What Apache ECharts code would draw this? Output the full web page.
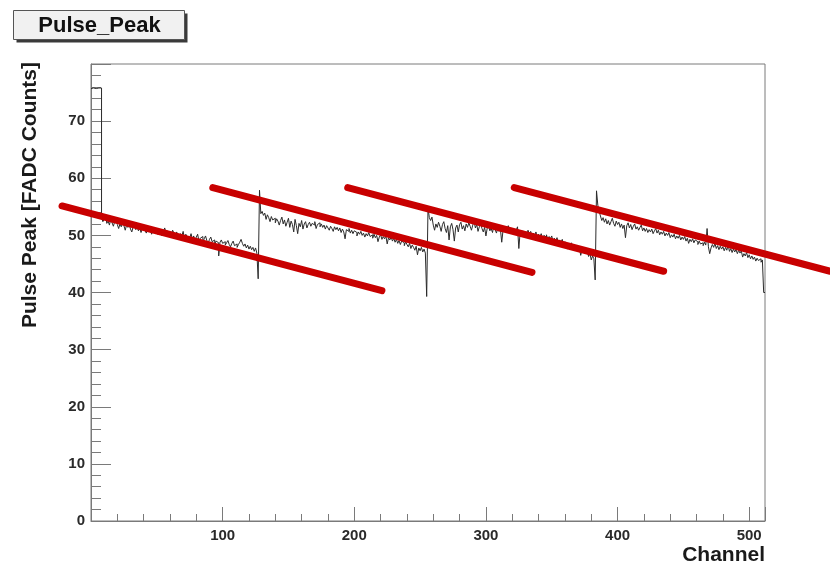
<!DOCTYPE html>
<html>
<head>
<meta charset="utf-8">
<script src="https://cdn.jsdelivr.net/npm/echarts@6/dist/echarts.min.js"></script>
<style>
html,body{margin:0;padding:0;background:#fff;}
#chart{width:830px;height:566px;}
</style>
</head>
<body>
<div id="chart"></div>
<script>
// Pulse peak per channel (channels 0..511, four blocks of 128)
var block1 = [
75.7,75.8,75.8,75.7,75.8,75.8,75.7,75.8,
53.2,52.4,52.8,53.6,52.1,52.5,51.8,52.9,52.2,51.6,52.4,53.1,51.9,51.2,52.0,51.5,
52.3,51.7,50.9,51.8,51.4,52.0,51.1,50.6,51.5,51.9,51.0,51.6,50.8,51.3,50.5,51.2,
51.7,50.9,50.4,51.1,50.7,51.4,50.2,50.8,51.2,50.5,50.9,50.1,51.0,50.6,49.9,50.7,
51.3,50.3,50.8,49.8,50.5,50.0,50.9,50.4,49.7,50.6,50.1,49.5,50.3,49.9,50.7,49.4,
50.2,49.8,48.9,49.6,50.3,49.3,49.9,49.1,49.7,50.2,49.0,49.5,49.8,48.8,49.4,49.9,
49.1,48.6,49.3,49.7,48.9,49.2,48.5,49.0,48.7,46.4,48.8,49.2,48.6,48.9,48.3,48.7,
49.1,48.4,48.0,48.6,49.0,48.2,48.5,47.9,48.4,48.8,49.3,48.6,48.1,48.5,47.8,48.3,
47.6,48.1,47.5,47.9,47.2,47.8,46.9,42.4
];
var block2 = [
57.9,53.8,54.2,53.5,53.9,52.8,53.6,53.1,52.4,53.3,52.7,53.0,52.2,52.9,52.5,51.8,
52.6,53.2,52.0,52.7,51.6,52.3,53.0,51.4,52.5,51.9,50.6,52.8,51.7,50.3,52.1,51.5,
52.6,51.1,52.0,52.4,51.3,51.9,52.3,51.6,52.1,51.8,52.4,51.2,51.9,52.2,51.5,52.0,
51.4,51.8,51.1,51.7,51.3,50.9,51.6,51.2,50.7,51.5,51.0,51.4,50.8,51.3,50.5,51.1,
50.6,49.4,51.0,50.7,51.2,50.4,50.9,50.3,50.8,50.5,49.9,50.6,50.2,50.7,50.0,50.4,
49.7,50.3,49.9,50.5,49.8,50.1,49.5,50.2,49.6,50.0,48.9,49.7,50.1,49.3,49.8,49.4,
49.9,48.5,49.6,49.2,49.7,49.0,49.5,48.8,49.3,48.6,49.1,48.4,49.0,48.7,48.2,48.9,
48.4,48.0,48.6,47.7,48.3,47.9,47.4,48.1,46.6,47.8,47.3,47.9,47.1,47.6,46.9,39.3
];
var block3 = [
54.9,53.1,52.6,53.2,51.8,50.9,52.0,51.4,52.3,51.6,50.7,51.9,52.4,51.2,50.5,51.7,
49.2,51.5,52.1,51.0,49.0,51.3,51.8,50.6,51.9,52.3,51.1,51.7,50.8,52.0,51.4,52.2,
51.6,50.9,51.8,52.4,51.3,51.9,50.7,51.5,52.1,51.2,50.6,51.4,49.9,51.3,51.7,50.8,
51.2,50.5,51.6,51.0,50.4,51.3,50.7,51.1,48.8,50.9,51.4,50.6,51.2,51.7,50.8,51.3,
50.5,51.0,50.3,50.9,51.5,47.7,50.6,50.1,50.8,50.4,49.8,50.5,50.9,50.2,50.7,49.9,
50.4,50.0,50.6,49.6,50.2,49.8,50.3,49.5,50.0,49.7,50.1,49.2,49.8,49.4,49.9,48.9,
49.5,49.0,49.6,48.7,49.2,48.8,49.3,48.4,48.9,48.5,47.6,48.6,48.1,48.7,47.9,48.3,
47.6,48.2,47.3,47.9,46.5,47.5,47.0,47.6,46.8,47.2,46.3,46.9,45.7,46.4,45.9,42.2
];
var block4 = [
57.8,55.3,54.2,53.4,52.6,53.1,52.3,52.9,52.0,52.6,51.8,52.4,53.0,52.1,51.6,52.5,
51.9,52.3,51.4,52.0,51.2,51.8,49.6,51.7,52.2,51.3,51.9,51.0,51.6,52.0,51.1,51.5,
50.9,51.4,51.8,50.8,51.3,50.7,51.2,50.5,51.0,50.6,51.1,50.3,50.8,51.2,50.4,50.9,
50.1,50.6,50.2,50.7,49.9,50.4,50.0,50.5,49.6,50.1,49.7,50.2,49.4,49.9,49.5,50.0,
49.2,49.7,49.3,49.8,49.0,49.5,48.6,49.3,48.9,49.4,48.7,49.2,48.9,48.4,49.0,48.5,
48.7,48.2,48.8,48.3,51.2,48.0,46.8,47.8,48.4,47.9,48.6,47.7,48.2,47.5,48.1,47.6,
48.0,47.3,47.9,47.4,48.3,47.2,47.7,47.0,47.6,47.1,47.5,46.8,47.4,46.9,47.3,46.2,
46.8,46.4,47.0,46.1,46.6,45.9,46.4,45.8,46.2,45.5,46.0,45.6,45.9,45.3,45.7,40.0
];

// Red annotation strokes, as [channel, value] end points
var stroke1 = [[-22, 55.2], [221, 40.4]];
var stroke2 = [[92.5, 58.4], [335, 43.6]];
var stroke3 = [[195, 58.4], [435, 43.8]];
var stroke4 = [[321.5, 58.4], [561.5, 43.8]];

var xTicks = { min: 0, max: 512, interval: 100 };
var yTicks = { min: 0, max: 80, interval: 10 };

var values = block1.concat(block2, block3, block4);
var histData = values.map(function (v, i) { return [i, v]; });
histData.push([values.length, values[values.length - 1]]);

var W = 830, gL = 91, gR = 65, gT = 64, gB = 44;
var perPx = (xTicks.max - xTicks.min) / (W - gL - gR);
// overlay axis spanning the whole width with the same channel scale (for annotations that run past the frame)
var ovMin = xTicks.min - gL * perPx;
var ovMax = xTicks.max + gR * perPx;

var chart = echarts.init(document.getElementById('chart'), null, { renderer: 'canvas' });
var axisGray = '#7a7a7a';
var labelStyle = { color: '#2a2a2a', fontFamily: 'Liberation Sans, Arial, sans-serif', fontWeight: 'bold', fontSize: 15 };

function strokeSeries(d) {
  return {
    type: 'line', data: d, xAxisIndex: 1, yAxisIndex: 1, symbol: 'none', silent: true, z: 5,
    lineStyle: { color: '#c80000', width: 7, cap: 'round' }
  };
}

chart.setOption({
  animation: false,
  backgroundColor: '#ffffff',
  grid: [
    { left: gL, right: gR, top: gT, bottom: gB, show: true, borderColor: axisGray, borderWidth: 1, backgroundColor: 'transparent' },
    { left: 0, right: 0, top: gT, bottom: gB, show: false }
  ],
  xAxis: [{
    type: 'value', gridIndex: 0, min: xTicks.min, max: xTicks.max, interval: xTicks.interval,
    axisLine: { show: true, onZero: false, lineStyle: { color: axisGray, width: 1 } },
    axisTick: { show: true, inside: true, length: 14, lineStyle: { color: axisGray } },
    minorTick: { show: true, splitNumber: 5, length: 7, lineStyle: { color: axisGray } },
    splitLine: { show: false },
    axisLabel: Object.assign({ margin: 7, showMinLabel: false, showMaxLabel: false }, labelStyle),
    name: 'Channel', nameLocation: 'end', nameGap: 0,
    nameTextStyle: { color: '#1a1a1a', fontFamily: 'Liberation Sans, Arial, sans-serif', fontWeight: 'bold', fontSize: 21, align: 'right', verticalAlign: 'top', padding: [24, 0, 0, 0] }
  }, {
    type: 'value', gridIndex: 1, min: ovMin, max: ovMax, show: false
  }],
  yAxis: [{
    type: 'value', gridIndex: 0, min: yTicks.min, max: yTicks.max, interval: yTicks.interval,
    axisLine: { show: true, lineStyle: { color: axisGray, width: 1 } },
    axisTick: { show: true, inside: true, length: 20, lineStyle: { color: axisGray } },
    minorTick: { show: true, splitNumber: 5, length: 10, lineStyle: { color: axisGray } },
    splitLine: { show: false },
    axisLabel: Object.assign({ margin: 6, showMaxLabel: false }, labelStyle)
  }, {
    type: 'value', gridIndex: 1, min: yTicks.min, max: yTicks.max, show: false
  }],
  graphic: [
    {
      type: 'group', left: 13, top: 10,
      children: [
        { type: 'rect', shape: { x: 3, y: 3, width: 171, height: 29 }, style: { fill: '#3a3a3a' } },
        { type: 'rect', shape: { x: 0, y: 0, width: 171, height: 29 }, style: { fill: '#f1f1f1', stroke: '#555', lineWidth: 1 } },
        { type: 'text', x: 86, y: 15, style: { text: 'Pulse_Peak', fill: '#111', font: 'bold 22px "Liberation Sans", Arial, sans-serif', align: 'center', verticalAlign: 'middle' } }
      ]
    },
    {
      type: 'text', x: 30, y: 62, rotation: Math.PI / 2,
      style: { text: 'Pulse Peak [FADC Counts]', fill: '#1a1a1a', font: 'bold 21px "Liberation Sans", Arial, sans-serif', align: 'right', verticalAlign: 'middle' }
    }
  ],
  series: [
    {
      type: 'line', data: histData, step: 'end', symbol: 'none', silent: true, z: 3,
      lineStyle: { color: '#2b2b2b', width: 1 }
    },
    strokeSeries(stroke1), strokeSeries(stroke2), strokeSeries(stroke3), strokeSeries(stroke4)
  ]
});
</script>
</body>
</html>
